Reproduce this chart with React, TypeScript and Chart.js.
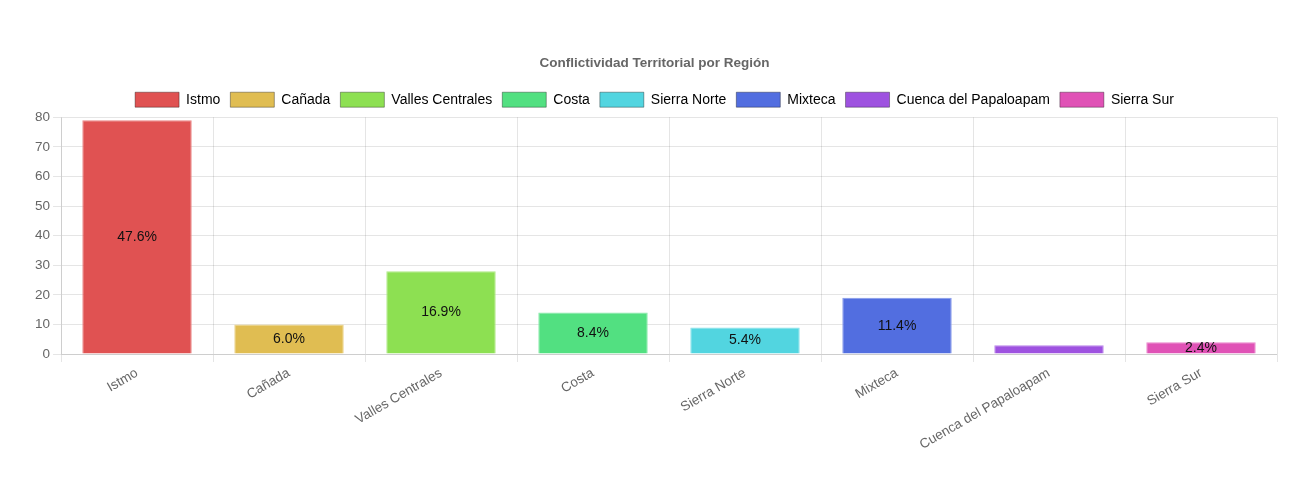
import { useEffect, useRef } from "react"
import { Chart, registerables } from "chart.js"

Chart.register(...registerables)

const regions = [
  "Istmo",
  "Cañada",
  "Valles Centrales",
  "Costa",
  "Sierra Norte",
  "Mixteca",
  "Cuenca del Papaloapam",
  "Sierra Sur",
]
const conflicts = [79, 10, 28, 14, 9, 19, 3, 4]
const hues = [0, 45, 95, 140, 185, 228, 272, 318]
const yTicks = [0, 10, 20, 30, 40, 50, 60, 70, 80]

const FONT = "'Helvetica Neue', Helvetica, Arial, 'Liberation Sans', sans-serif"

const fillColors = hues.map((h) => `hsl(${h}, 70%, 60%)`)
const edgeColors = hues.map((h) => `hsl(${h}, 70%, 72%)`)

// draws the percentage in the middle of each bar
const percentLabels = {
  id: "percentLabels",
  afterDatasetsDraw(chart: Chart) {
    const ctx = chart.ctx
    const values = chart.data.datasets[0].data as number[]
    const total = values.reduce((a, b) => a + b, 0)
    const meta = chart.getDatasetMeta(0)
    ctx.save()
    ctx.font = `14px ${FONT}`
    ctx.fillStyle = "#111"
    ctx.textAlign = "center"
    ctx.textBaseline = "middle"
    meta.data.forEach((bar: any, i) => {
      const pct = (values[i] / total) * 100
      if (pct < 2) return
      const { x, y, base } = bar.getProps(["x", "y", "base"], true)
      ctx.fillText(pct.toFixed(1) + "%", x, (y + base) / 2)
    })
    ctx.restore()
  },
}

export default function App() {
  const chartRef = useRef<HTMLCanvasElement>(null)
  const chartInstance = useRef<Chart | null>(null)

  useEffect(() => {
    if (!chartRef.current) return
    if (chartInstance.current) {
      chartInstance.current.destroy()
    }
    const ctx = chartRef.current.getContext("2d")
    if (!ctx) return

    chartInstance.current = new Chart(ctx, {
      type: "bar",
      data: {
        labels: regions,
        datasets: [
          {
            label: "Conflictos",
            data: conflicts,
            backgroundColor: fillColors,
            borderColor: edgeColors,
            borderWidth: 1,
          },
        ],
      },
      options: {
        responsive: true,
        maintainAspectRatio: false,
        animation: false,
        layout: {
          padding: { top: 37, left: 24, right: 25, bottom: 21 },
        },
        plugins: {
          title: {
            display: true,
            text: "Conflictividad Territorial por Región",
            color: "#666",
            font: { family: FONT, size: 13.5, weight: "bold" },
            padding: { top: 10, bottom: 11 },
          },
          legend: {
            labels: {
              color: "#111",
              font: { family: FONT, size: 14 },
              boxWidth: 44,
              boxHeight: 15,
              generateLabels: () =>
                regions.map((r, i) => ({
                  text: r,
                  fillStyle: fillColors[i],
                  strokeStyle: "rgba(0,0,0,0.35)",
                  lineWidth: 1,
                  hidden: false,
                  index: i,
                  datasetIndex: 0,
                })),
            },
            onClick: () => {},
          },
          tooltip: { enabled: false },
        },
        scales: {
          x: {
            ticks: {
              color: "#666",
              font: { family: FONT, size: 13.5 },
              minRotation: 30,
              maxRotation: 30,
            },
          },
          y: {
            beginAtZero: true,
            min: 0,
            max: yTicks[yTicks.length - 1],
            ticks: {
              color: "#666",
              font: { family: FONT, size: 13.5 },
              stepSize: yTicks[1] - yTicks[0],
            },
          },
        },
      },
      plugins: [percentLabels],
    })

    return () => {
      if (chartInstance.current) {
        chartInstance.current.destroy()
        chartInstance.current = null
      }
    }
  }, [])

  return (
    <div style={{ width: "100%", height: "469px", position: "relative" }}>
      <canvas ref={chartRef} />
    </div>
  )
}
